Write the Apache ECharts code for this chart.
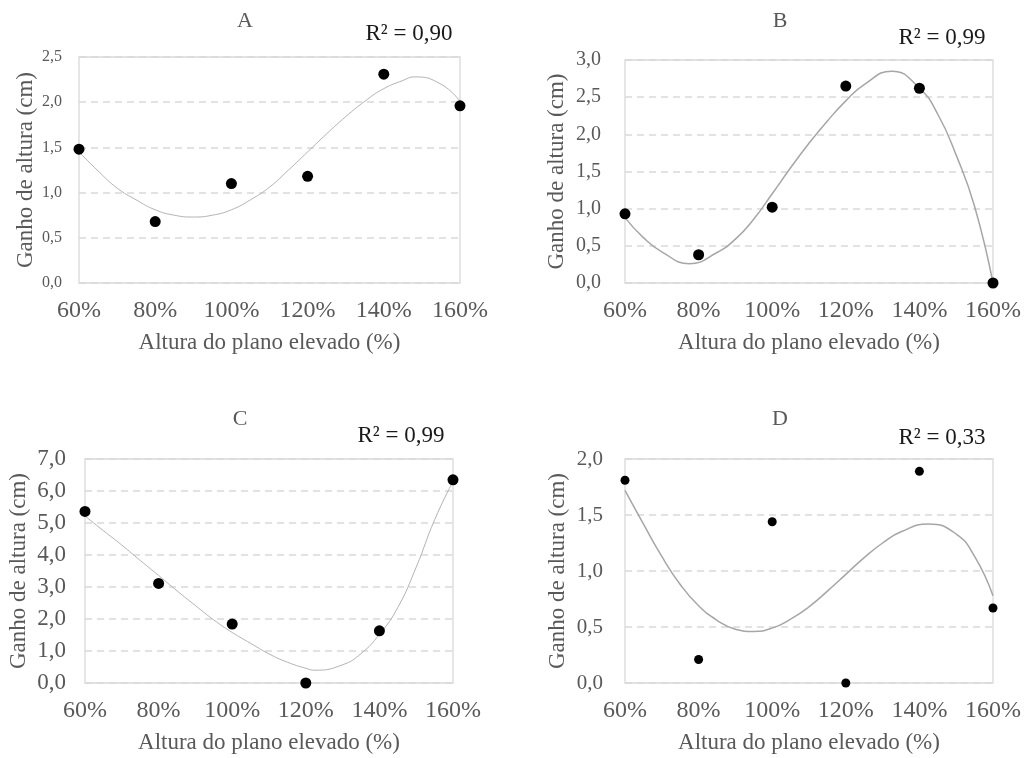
<!DOCTYPE html>
<html>
<head>
<meta charset="utf-8">
<script src="https://cdn.jsdelivr.net/npm/echarts@6/dist/echarts.min.js"></script>
<style>
html,body{margin:0;padding:0;background:#ffffff;}
#chart{width:1024px;height:758px;}
</style>
</head>
<body>
<div id="chart"></div>
<script>
// ---- data ----
const xCats = [60, 80, 100, 120, 140, 160];
const panelTitles = ['A', 'B', 'C', 'D'];
const r2Labels = ['R² = 0,90', 'R² = 0,99', 'R² = 0,99', 'R² = 0,33'];
const xAxisTitle = 'Altura do plano elevado (%)';
const yAxisTitle = 'Ganho de altura (cm)';

const valuesA = [1.48, 0.68, 1.10, 1.18, 2.31, 1.96];
const valuesB = [0.93, 0.38, 1.02, 2.65, 2.62, 0.00];
const valuesC = [5.36, 3.11, 1.84, 0.00, 1.63, 6.35];
const valuesD = [1.81, 0.21, 1.44, 0.00, 1.89, 0.67];

// trend curves (incl. their turning points)
const trendXA = [60, 65, 70, 75, 80, 85, 90, 95, 100, 105, 110, 115, 120, 125, 130, 135, 140, 145, 148, 155, 160];
const trendA  = [1.45, 1.24, 1.05, 0.92, 0.81, 0.75, 0.73, 0.75, 0.81, 0.92, 1.06, 1.25, 1.45, 1.65, 1.84, 2.01, 2.15, 2.24, 2.28, 2.20, 2.01];
const trendXB = [60, 65, 70, 77.5, 85, 90, 95, 100, 105, 110, 115, 120, 125, 132.5, 140, 145, 150, 155, 160];
const trendB  = [0.88, 0.61, 0.42, 0.26, 0.41, 0.59, 0.86, 1.20, 1.55, 1.88, 2.18, 2.45, 2.67, 2.85, 2.62, 2.27, 1.72, 1.03, 0.00];
const trendXC = [60, 65, 70, 75, 80, 85, 90, 95, 100, 105, 110, 115, 120, 122.5, 130, 135, 140, 145, 150, 155, 160];
const trendC  = [5.22, 4.76, 4.31, 3.83, 3.36, 2.88, 2.42, 1.97, 1.58, 1.24, 0.91, 0.65, 0.46, 0.40, 0.57, 0.92, 1.52, 2.36, 3.62, 5.10, 6.30];
const trendXD = [60, 65, 70, 75, 80, 85, 90, 95, 100, 105, 110, 115, 120, 125, 130, 135, 142.5, 150, 155, 160];
const trendD  = [1.72, 1.42, 1.13, 0.88, 0.69, 0.56, 0.48, 0.46, 0.49, 0.57, 0.68, 0.82, 0.97, 1.12, 1.25, 1.35, 1.42, 1.33, 1.13, 0.78];

const yMax = [2.5, 3.0, 7.0, 2.0];
const yStep = [0.5, 0.5, 1.0, 0.5];

// ---- layout / styles ----
const FONT = '"Liberation Serif", "Times New Roman", serif';
const GRAY = '#595959';
const LIGHT = '#d9d9d9';

const grids = [
  {left: 79, top: 57, width: 381, height: 226},
  {left: 625, top: 60, width: 369, height: 223},
  {left: 85, top: 459, width: 368, height: 224},
  {left: 625, top: 459, width: 368, height: 224}
];
const yLabelFont = [16, 20, 23, 21];
const yLabelMargin = [17, 24, 19, 22];
const yNameGap = [42, 57, 55, 56];
const markerSize = [11, 11, 11, 9];
const lineStyles = [
  {color: '#b3b3b3', width: 1},
  {color: '#a6a6a6', width: 1.5},
  {color: '#b3b3b3', width: 1},
  {color: '#a6a6a6', width: 1.5}
];
const titlePos = [[245, 21], [780, 21], [240, 419], [780, 419]];
const r2Pos = [[409, 34], [942, 38], [401, 436], [942, 438]];

const allValues = [valuesA, valuesB, valuesC, valuesD];
const allTrendX = [trendXA, trendXB, trendXC, trendXD];
const allTrends = [trendA, trendB, trendC, trendD];

const fmtY = v => v.toFixed(1).replace('.', ',');

const option = {
  backgroundColor: '#ffffff',
  animation: false,
  grid: grids.map(g => Object.assign({show: true, borderColor: LIGHT, borderWidth: 1.3, backgroundColor: 'transparent', containLabel: false}, g)),
  xAxis: grids.map((g, i) => ({
    gridIndex: i,
    type: 'value',
    min: 60, max: 160, interval: 20,
    axisLine: {show: false},
    axisTick: {show: false},
    splitLine: {show: false},
    axisLabel: {formatter: v => v + '%', color: GRAY, fontFamily: FONT, fontSize: 24, margin: 16},
    name: xAxisTitle,
    nameLocation: 'middle',
    nameGap: 48,
    nameTextStyle: {color: GRAY, fontFamily: FONT, fontSize: 23}
  })),
  yAxis: grids.map((g, i) => ({
    gridIndex: i,
    type: 'value',
    min: 0, max: yMax[i], interval: yStep[i],
    axisLine: {show: false},
    axisTick: {show: false},
    splitLine: {show: true, lineStyle: {color: LIGHT, type: [7, 5], width: 1.5}},
    axisLabel: {formatter: fmtY, color: GRAY, fontFamily: FONT, fontSize: yLabelFont[i], margin: yLabelMargin[i]},
    name: yAxisTitle,
    nameLocation: 'middle',
    nameGap: yNameGap[i],
    nameTextStyle: {color: GRAY, fontFamily: FONT, fontSize: 23}
  })),
  series: [],
  graphic: []
};

for (let i = 0; i < 4; i++) {
  option.series.push({
    type: 'line',
    xAxisIndex: i, yAxisIndex: i,
    data: allTrendX[i].map((x, k) => [x, allTrends[i][k]]),
    smooth: 0.5,
    showSymbol: false,
    lineStyle: lineStyles[i],
    z: 2
  });
  option.series.push({
    type: 'scatter',
    xAxisIndex: i, yAxisIndex: i,
    data: xCats.map((x, k) => [x, allValues[i][k]]),
    symbol: 'circle',
    symbolSize: markerSize[i],
    itemStyle: {color: '#000000', opacity: 1},
    z: 3
  });
  option.graphic.push({
    type: 'text',
    x: titlePos[i][0], y: titlePos[i][1],
    style: {text: panelTitles[i], fill: GRAY, font: '22px ' + FONT, textAlign: 'center', textVerticalAlign: 'middle'}
  });
  option.graphic.push({
    type: 'text',
    x: r2Pos[i][0], y: r2Pos[i][1],
    style: {text: r2Labels[i], fill: '#1a1a1a', font: '23px ' + FONT, textAlign: 'center', textVerticalAlign: 'middle'}
  });
}

const chart = echarts.init(document.getElementById('chart'), null, {renderer: 'canvas'});
chart.setOption(option);
</script>
</body>
</html>
